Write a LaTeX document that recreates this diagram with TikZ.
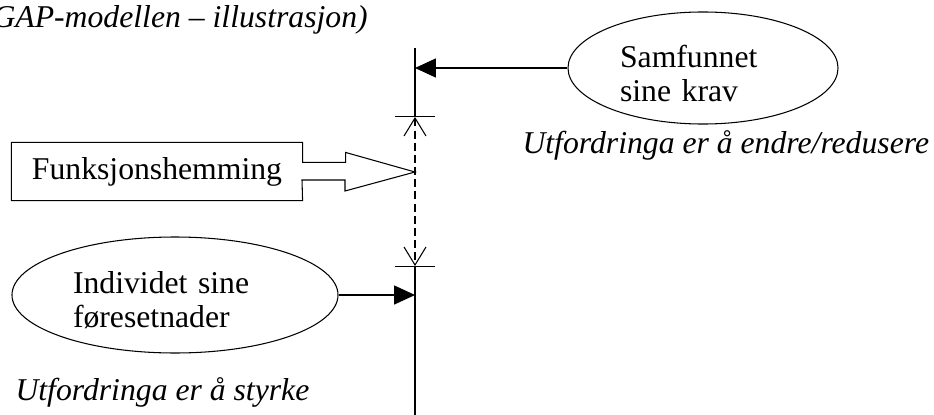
\documentclass[tikz,border=0pt]{standalone}
\usepackage{fontspec}
\setmainfont{Liberation Serif}
\usetikzlibrary{arrows.meta,shapes.geometric}
\tikzset{font=\fontsize{12}{12.9}\selectfont,line width=0.6pt,
  krav/.style={draw,ellipse,inner sep=0pt,align=left,text height=12.4pt},
  push/.style={-{Triangle[length=7.9pt,width=7.2pt]}},
  gap/.style={dash pattern=on 3pt off 1.6pt,{Straight Barb[length=6.8pt,width=8.3pt]}-{Straight Barb[length=6.8pt,width=8.3pt]}},
  note/.style={anchor=base west,inner sep=0pt,font=\fontsize{12}{12.9}\selectfont\itshape}}

\begin{document}
\begin{tikzpicture}[x=0.3785pt,y=-0.3785pt]
  \useasboundingbox (0,0) rectangle (934,414);
  \coordinate (top) at (415,48);
  \coordinate (g1) at (415,117);
  \coordinate (tip) at (415,172);
  \coordinate (g2) at (415,266);
  \coordinate (bot) at (415,416);

  \node[note] (title) at (-8,28) {GAP-modellen – illustrasjon)};
  \node[krav,minimum width=102.2pt,minimum height=42.4pt,text width=62.8pt] (samf) at (703,68) {Samfunnet\\sine krav};
  \node[note] (endre) at (522,153) {Utfordringa er å endre/redusere};
  \node[minimum width=109.8pt,minimum height=21.6pt,inner sep=0pt] (funk) at (157,171.5) {Funksjonshemming};
  \node[krav,minimum width=123.4pt,minimum height=43.9pt,text width=77.2pt] (indiv) at (175,295) {Individet sine\\føresetnader};
  \node[note] (styrke) at (15,400) {Utfordringa er å styrke};

  \draw[-{Bar[width=15.1pt]}] (top) -- (g1);
  \draw[gap] (g1) -- (g2);
  \draw[{Bar[width=15.1pt]}-] (g2) -- (bot);

  \path
  (samf.west) edge [push] (samf.west -| top)
  (indiv.east) edge [push] (indiv.east -| top)
  ;

  \draw (funk.north west) -- (funk.north east) -- ++(0,20) -- ++(43,0) -- ++(0,-10) -- (tip)
    -- ++(-70,19) -- ++(0,-11) -- ++(-43,0) -- (funk.south east) -- (funk.south west) -- cycle;
\end{tikzpicture}
\end{document}
